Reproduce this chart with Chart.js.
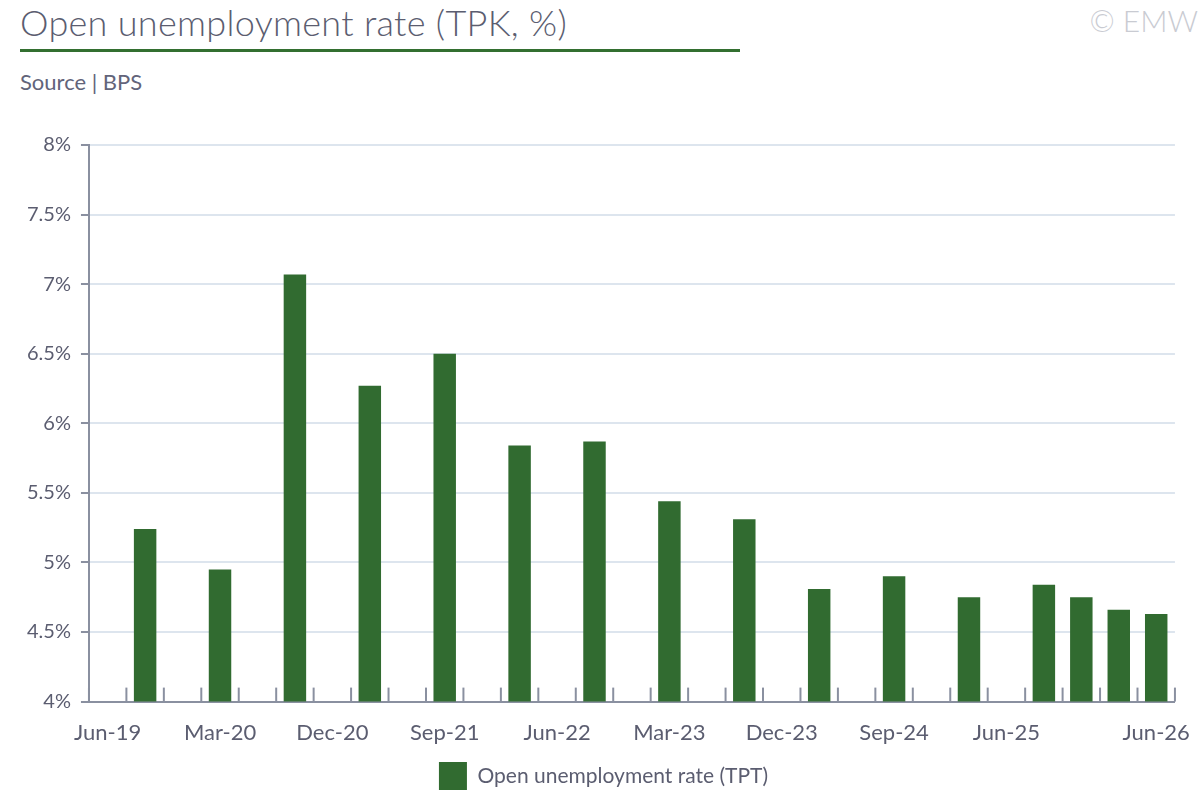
<!DOCTYPE html>
<html>
<head>
<meta charset="utf-8">
<script src="https://cdn.jsdelivr.net/npm/chart.js@4"></script>
<style>
  body { margin: 0; width: 1200px; height: 800px; background: #fff; font-family: Lato, "Open Sans", sans-serif; overflow: hidden; position: relative; }
  #title { position: absolute; left: 20px; top: 0px; font-size: 36px; color: #5b5d70; font-weight: 300; letter-spacing: 0.3px; }
  #line { position: absolute; left: 20px; top: 49px; width: 720px; height: 3px; background: #336f30; }
  #copy { position: absolute; right: 2px; top: 2px; font-size: 30px; color: #c9cbd2; font-weight: 300; }
  #source { position: absolute; left: 20px; top: 68px; font-size: 22px; color: #62647a; }
  #wrap { position: absolute; left: 0; top: 123px; width: 1200px; height: 677px; }
</style>
</head>
<body>
<div id="title">Open unemployment rate (TPK, %)</div>
<div id="line"></div>
<div id="copy">© EMW</div>
<div id="source">Source | BPS</div>
<div id="wrap"><canvas id="myChart"></canvas></div>
<script>
// quarters from Jun-19 to Jun-26
var quarters = ["Jun-19","Sep-19","Dec-19","Mar-20","Jun-20","Sep-20","Dec-20","Mar-21","Jun-21","Sep-21","Dec-21","Mar-22","Jun-22","Sep-22","Dec-22","Mar-23","Jun-23","Sep-23","Dec-23","Mar-24","Jun-24","Sep-24","Dec-24","Mar-25","Jun-25","Sep-25","Dec-25","Mar-26","Jun-26"];
var rates = [null,5.24,null,4.95,null,7.07,null,6.27,null,6.5,null,5.84,null,5.87,null,5.44,null,5.31,null,4.81,null,4.9,null,4.75,null,4.84,4.75,4.66,4.63];
var yTicks = [4,4.5,5,5.5,6,6.5,7,7.5,8];

var axisColor = "#8a90a0";
var textColor = "#5b5d70";

// small tick marks on the x axis, pointing up into the plot
var innerTicks = {
  id: "innerTicks",
  afterDatasetsDraw: function (chart) {
    var x = chart.scales.x, ctx = chart.ctx;
    var bottom = chart.chartArea.bottom;
    ctx.save();
    ctx.strokeStyle = axisColor;
    ctx.lineWidth = 2;
    for (var i = 0; i <= quarters.length; i++) {
      var px = x.left + (x.right - x.left) * i / quarters.length;
      ctx.beginPath();
      ctx.moveTo(px, bottom);
      ctx.lineTo(px, bottom - 14);
      ctx.stroke();
    }
    ctx.restore();
  }
};

var ctx = document.getElementById("myChart");
var myChart = new Chart(ctx, {
  type: "bar",
  data: {
    labels: quarters,
    datasets: [{
      label: "Open unemployment rate (TPT)",
      data: rates,
      backgroundColor: "#316b30",
      barPercentage: 0.6,
      categoryPercentage: 1
    }]
  },
  options: {
    responsive: true,
    maintainAspectRatio: false,
    animation: false,
    layout: { padding: { left: 17, right: 10, top: 4, bottom: 0 } },
    plugins: {
      legend: {
        position: "bottom",
        labels: { boxWidth: 28, boxHeight: 28, color: textColor, font: { size: 21, family: "Lato" }, padding: 6 }
      },
      tooltip: { enabled: false }
    },
    scales: {
      x: {
        grid: { display: false },
        border: { display: true, color: axisColor, width: 2 },
        ticks: {
          autoSkip: false, maxRotation: 0, color: textColor, padding: 10,
          font: { size: 22, family: "Lato" },
          callback: function (v, i) { return ((i % 3 === 0 && i < 27) || i === 28) ? quarters[i] : ""; }
        }
      },
      y: {
        min: 4, max: 8,
        afterBuildTicks: function (s) { s.ticks = yTicks.map(function (v) { return { value: v }; }); },
        grid: { color: "#dde5ee", lineWidth: 2, tickLength: 8, tickColor: axisColor },
        border: { display: true, color: axisColor, width: 2 },
        ticks: { color: textColor, font: { size: 20, family: "Lato" }, padding: 10, callback: function (v) { return v + "%"; } }
      }
    }
  },
  plugins: [innerTicks]
});
</script>
</body>
</html>
